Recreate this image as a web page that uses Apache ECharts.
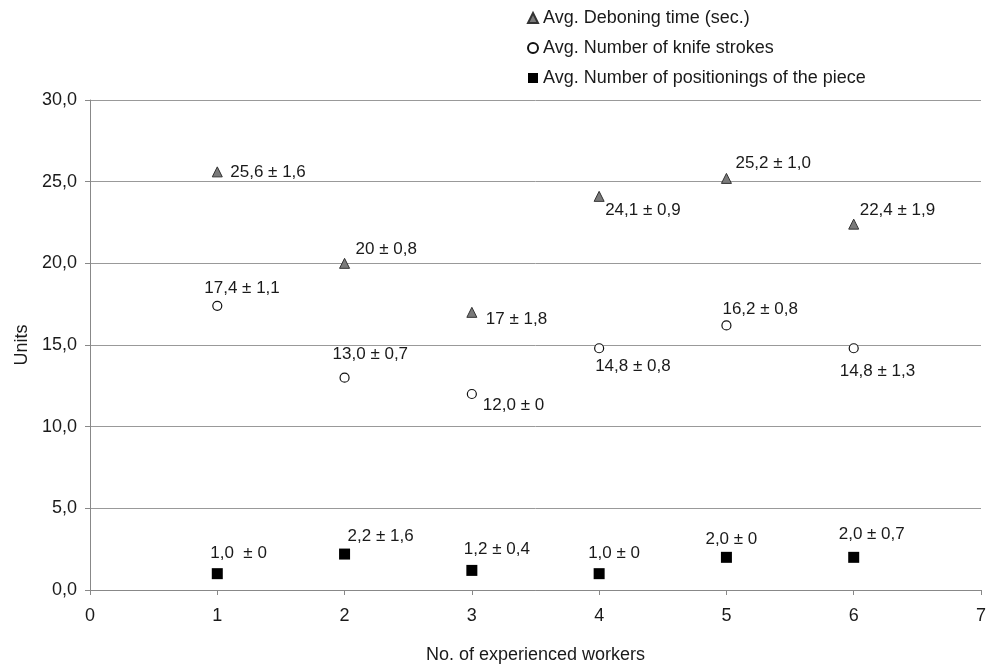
<!DOCTYPE html>
<html>
<head>
<meta charset="utf-8">
<script src="https://cdn.jsdelivr.net/npm/echarts@6/dist/echarts.min.js"></script>
<style>
html,body{margin:0;padding:0;background:#fff;}
#chart{width:989px;height:669px;}
</style>
</head>
<body>
<div id="chart"></div>
<script>
// ---- data ----
const workers = [1, 2, 3, 4, 5, 6];
const seriesNames = [
  'Avg. Deboning time (sec.)',
  'Avg. Number of knife strokes',
  'Avg. Number of positionings of the piece'
];
const deboningTime = [25.6, 20.0, 17.0, 24.1, 25.2, 22.4];
const knifeStrokes = [17.4, 13.0, 12.0, 14.8, 16.2, 14.8];
const positionings = [1.0, 2.2, 1.2, 1.0, 2.0, 2.0];
const deboningLabels = ['25,6 ± 1,6', '20 ± 0,8', '17 ± 1,8', '24,1 ± 0,9', '25,2 ± 1,0', '22,4 ± 1,9'];
const knifeLabels = ['17,4 ± 1,1', '13,0 ± 0,7', '12,0 ± 0', '14,8 ± 0,8', '16,2 ± 0,8', '14,8 ± 1,3'];
const positioningLabels = ['1,0  ± 0', '2,2 ± 1,6', '1,2 ± 0,4', '1,0 ± 0', '2,0 ± 0', '2,0 ± 0,7'];

// ---- label placement (pixel offsets from the marker centre) ----
const deboningOffsets = [[13, 0], [11, -14], [14, 7], [6, 14], [9, -15], [6, -14]];
const knifeOffsets = [[-13, -17], [-12, -23], [11, 11], [-4, 18], [-4, -16], [-14, 23]];
const positioningOffsets = [[-7, -20], [3, -18], [-8, -21], [-11, -20], [-21, -18], [-15, -23]];

const FONT = 'Liberation Sans, Arial, sans-serif';
const TXT = '#1a1a1a';
function build(values, labels, offsets) {
  return values.map((v, i) => ({
    value: [workers[i], v],
    label: {
      show: true,
      formatter: labels[i],
      position: 'inside',
      align: 'left',
      verticalAlign: 'middle',
      offset: offsets[i],
      color: TXT,
      fontSize: 17,
      fontFamily: FONT
    }
  }));
}

const chart = echarts.init(document.getElementById('chart'), null, {renderer: 'canvas'});
chart.setOption({
  animation: false,
  backgroundColor: '#fff',
  legend: {
    orient: 'vertical',
    left: 522,
    top: 4,
    itemWidth: 10,
    itemHeight: 10,
    itemGap: 12,
    textStyle: {fontSize: 18, fontFamily: FONT, color: TXT},
    data: seriesNames
  },
  grid: {left: 90, right: 6, top: 100, bottom: 76, containLabel: false},
  xAxis: {
    type: 'value', min: 0, max: 7, interval: 1,
    name: 'No. of experienced workers', nameLocation: 'middle', nameGap: 56,
    nameTextStyle: {fontSize: 18, fontFamily: FONT, color: TXT},
    axisLine: {show: true, lineStyle: {color: '#888', width: 1}},
    axisTick: {show: true, length: 5, lineStyle: {color: '#888'}},
    axisLabel: {fontSize: 18, fontFamily: FONT, color: TXT, margin: 17},
    splitLine: {show: false}
  },
  yAxis: {
    type: 'value', min: 0, max: 30, interval: 5,
    name: 'Units', nameLocation: 'middle', nameGap: 59, nameRotate: 90,
    nameTextStyle: {fontSize: 18, fontFamily: FONT, color: TXT},
    axisLine: {show: true, lineStyle: {color: '#888', width: 1}},
    axisTick: {show: true, length: 5, lineStyle: {color: '#888'}},
    axisLabel: {fontSize: 18, fontFamily: FONT, color: TXT, margin: 13,
      formatter: v => v.toFixed(1).replace('.', ',')},
    splitLine: {show: true, lineStyle: {color: '#999', width: 1}}
  },
  series: [
    {
      name: seriesNames[0], type: 'scatter', symbol: 'triangle', symbolSize: 10,
      itemStyle: {color: '#7a7a7a', borderColor: '#333', borderWidth: 1, opacity: 1},
      data: build(deboningTime, deboningLabels, deboningOffsets)
    },
    {
      name: seriesNames[1], type: 'scatter', symbol: 'circle', symbolSize: 9,
      itemStyle: {color: '#fff', borderColor: '#111', borderWidth: 1.2, opacity: 1},
      data: build(knifeStrokes, knifeLabels, knifeOffsets)
    },
    {
      name: seriesNames[2], type: 'scatter', symbol: 'rect', symbolSize: 11,
      itemStyle: {color: '#000', opacity: 1},
      data: build(positionings, positioningLabels, positioningOffsets)
    }
  ]
});
</script>
</body>
</html>
